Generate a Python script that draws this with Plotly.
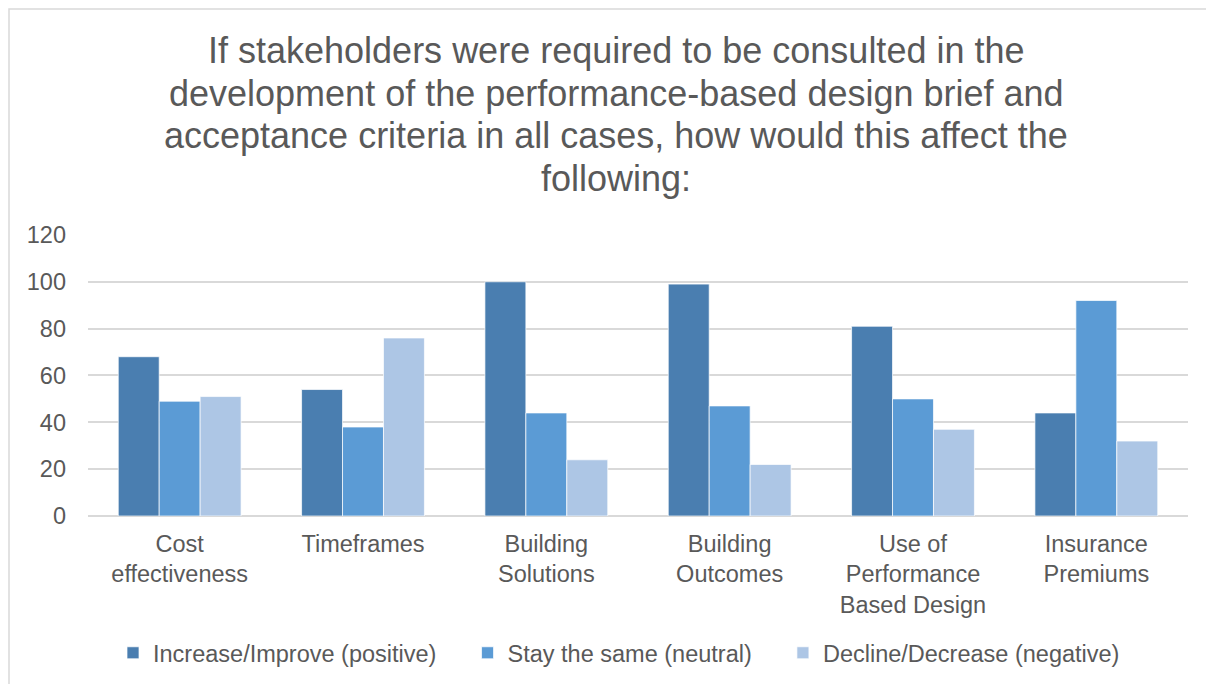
import plotly.graph_objects as go

categories = ["Cost<br>effectiveness", "Timeframes", "Building<br>Solutions", "Building<br>Outcomes",
              "Use of<br>Performance<br>Based Design", "Insurance<br>Premiums"]
series_names = ["Increase/Improve (positive)", "Stay the same (neutral)", "Decline/Decrease (negative)"]
increase = [68, 54, 100, 99, 81, 44]
same = [49, 38, 44, 47, 50, 92]
decline = [51, 76, 24, 22, 37, 32]
colors = ["#4A7EB0", "#5B9BD5", "#ADC6E5"]
title_lines = ["If stakeholders were required to be consulted in the",
               "development of the performance-based design brief and",
               "acceptance criteria in all cases, how would this affect the",
               "following:"]

W, H = 1214, 684
OFF = 8  # page body margin offset
# desired screen positions of the plot area
sx0, sx1, sy0, sy1 = 88, 1188, 234, 516
L = sx0 - OFF
R = W - (sx1 - OFF)
T = sy0 - OFF
B = H - (sy1 - OFF)
pw = sx1 - sx0
ph = sy1 - sy0


def px_to_paper_x(sx):
    return (sx - sx0) / pw


def px_to_paper_y(sy):
    return (sy1 - sy) / ph


FONT = "Liberation Sans, Arial, sans-serif"
GREY = "#595959"
TITLE_SIZE = 36
TICK_SIZE = 23.5

fig = go.Figure()
pad = "\u00a0" * 4
for i, (name, vals, c) in enumerate(zip(series_names, [increase, same, decline], colors)):
    label = name + (pad if i < len(series_names) - 1 else "")
    fig.add_trace(go.Bar(x=categories, y=vals, name=label,
                         marker=dict(color=c, line=dict(color="rgba(255,255,255,0.7)", width=1))))

fig.add_shape(type="rect", xref="paper", yref="paper",
              x0=px_to_paper_x(9), x1=px_to_paper_x(W + 30),
              y0=px_to_paper_y(H + 30), y1=px_to_paper_y(9),
              line=dict(color="#D9D9D9", width=1.5), fillcolor="rgba(0,0,0,0)", layer="below")

# title lines, baselines on screen
baselines = [63, 106, 148, 191]
for line, bl in zip(title_lines, baselines):
    fig.add_annotation(text=line, xref="paper", yref="paper",
                       x=px_to_paper_x(616), y=px_to_paper_y(bl - 0.35 * TITLE_SIZE),
                       xanchor="center", yanchor="middle", showarrow=False,
                       font=dict(family=FONT, size=TITLE_SIZE, color=GREY))

fig.update_layout(
    width=W, height=H,
    margin=dict(l=L, r=R, t=T, b=B, autoexpand=False),
    paper_bgcolor="white", plot_bgcolor="white",
    font=dict(family=FONT, color=GREY, size=TICK_SIZE),
    barmode="group", bargap=0.33, bargroupgap=0,
    showlegend=True,
    legend=dict(orientation="h", x=px_to_paper_x(619), xanchor="center",
                y=px_to_paper_y(653), yanchor="middle",
                font=dict(size=TICK_SIZE, color=GREY), traceorder="normal", itemwidth=30),
    xaxis=dict(showgrid=False, showline=False, ticks="", tickfont=dict(size=TICK_SIZE, color=GREY),
               ticklabelstandoff=11),
    yaxis=dict(range=[0, 120.4], tickvals=[0, 20, 40, 60, 80, 100, 120], showgrid=True,
               gridcolor="#D9D9D9", gridwidth=1.5,
               zeroline=True, zerolinecolor="#D9D9D9", zerolinewidth=1.5,
               tickfont=dict(size=TICK_SIZE, color=GREY), ticks="", ticklabelstandoff=21),
)

fig.write_html("out.html")
